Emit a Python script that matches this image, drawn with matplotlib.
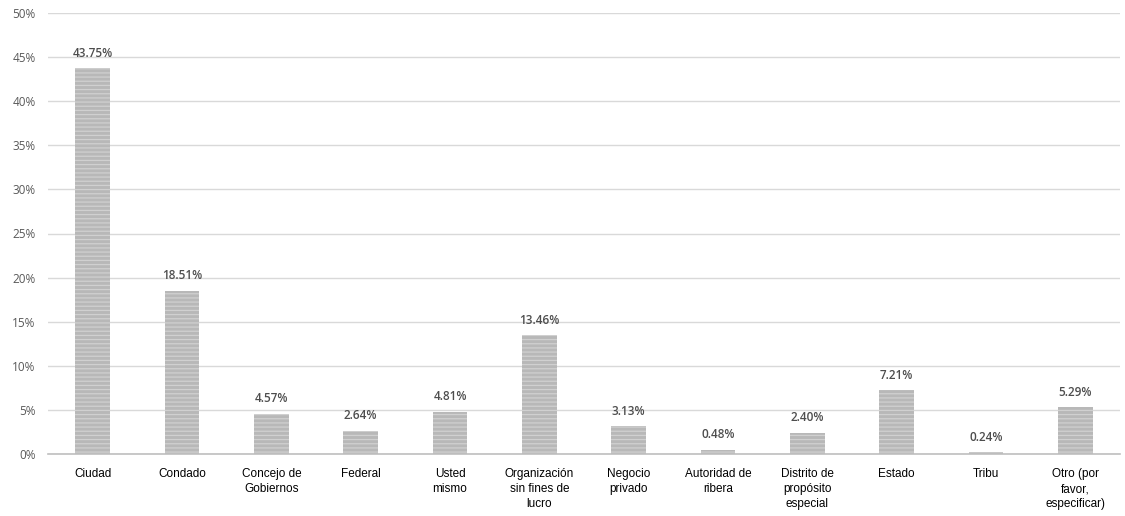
import matplotlib
matplotlib.use("Agg")
import matplotlib.pyplot as plt
from matplotlib.ticker import FuncFormatter, MultipleLocator

categories = ["Ciudad", "Condado", "Concejo de\nGobiernos", "Federal", "Usted\nmismo",
              "Organización\nsin fines de\nlucro", "Negocio\nprivado", "Autoridad de\nribera",
              "Distrito de\npropósito\nespecial", "Estado", "Tribu", "Otro (por\nfavor,\nespecificar)"]
values = [43.75, 18.51, 4.57, 2.64, 4.81, 13.46, 3.13, 0.48, 2.40, 7.21, 0.24, 5.29]

plt.rcParams['hatch.color'] = '#f0f0f0'
plt.rcParams['hatch.linewidth'] = 0.9

fig = plt.figure(figsize=(11.25, 5.16), dpi=100)
ax = fig.add_axes([48/1125, 1 - 454/516, (1120-48)/1125, (454-13)/516])

x = list(range(len(categories)))
bars = ax.bar(x, values, width=0.39, color='#b8b8b8', hatch='----', edgecolor='#d0d0d0',
              linewidth=0, zorder=3)

for xi, v in zip(x, values):
    ax.annotate(f"{v:.2f}%", (xi, v), xytext=(0, 6), textcoords='offset points',
                ha='center', va='bottom', fontsize=8.5, color='#4d4d4d',
                family=['Open Sans', 'DejaVu Sans'], fontweight='semibold')

ax.set_xlim(-0.5, len(categories) - 0.5)
ax.set_ylim(0, 50)
ax.yaxis.set_major_locator(MultipleLocator(5))
ax.yaxis.set_major_formatter(FuncFormatter(lambda v, p: f"{v:.0f}%"))
ax.grid(axis='y', color='#d9d9d9', linewidth=1, zorder=0)
for s in ['top', 'right', 'left']:
    ax.spines[s].set_visible(False)
ax.spines['bottom'].set_color('#bfbfbf')
ax.spines['bottom'].set_linewidth(1.2)
ax.spines['bottom'].set_zorder(4)

ax.set_xticks(x)
ax.set_xticklabels(categories, fontsize=8.5, family=['Liberation Sans', 'DejaVu Sans'],
                   color='#000000', linespacing=1.35, va='top')
ax.tick_params(axis='x', length=0, pad=10)
ax.tick_params(axis='y', length=0, pad=9, labelsize=8.5, labelcolor='#595959')
for lbl in ax.get_yticklabels():
    lbl.set_family(['Open Sans', 'DejaVu Sans'])

fig.savefig("out.png", dpi=100, facecolor='white')
